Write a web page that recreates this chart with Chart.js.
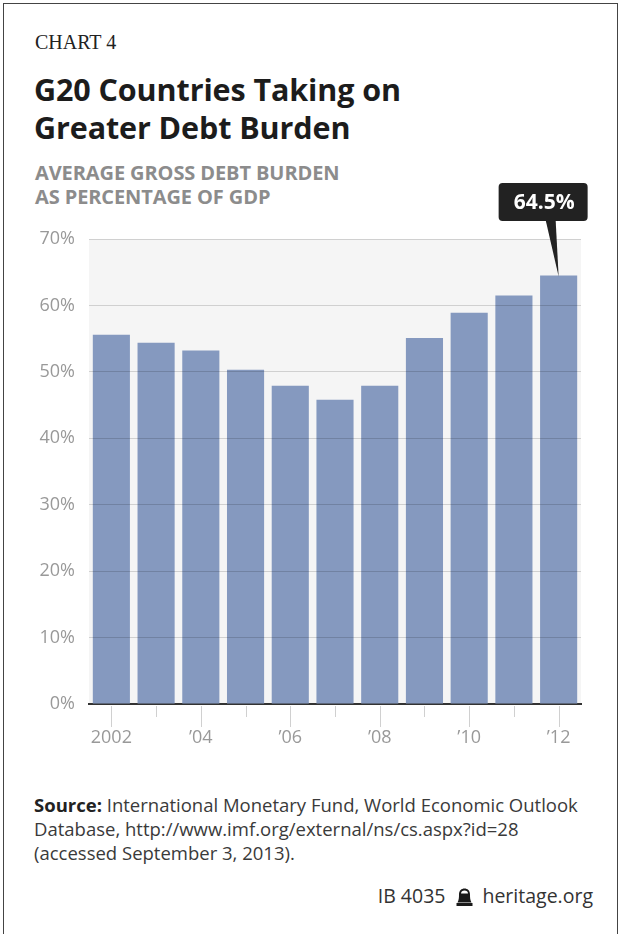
<!DOCTYPE html>
<html>
<head>
<meta charset="utf-8">
<script src="https://cdn.jsdelivr.net/npm/chart.js@4.4.1/dist/chart.umd.min.js"></script>
<style>
  html, body { margin: 0; padding: 0; background: #fff; }
  #page {
    position: relative; width: 623px; height: 934px; overflow: hidden;
    font-family: "Open Sans", Lato, sans-serif;
  }
  #frame {
    position: absolute; left: 3px; top: 3px; width: 615px; height: 940px;
    border: 1.5px solid #444; box-sizing: border-box;
  }
  .txt { position: absolute; white-space: nowrap; }
  #label { left: 35px; top: 31px; font-family: "Liberation Serif", serif; font-size: 20px; color: #222; }
  #title { left: 34px; top: 70px; font-size: 30.5px; font-weight: bold; line-height: 38px; color: #1c1c1c; letter-spacing: -0.1px; }
  #subtitle { left: 35px; top: 161px; font-size: 20px; font-weight: bold; line-height: 24px; color: #8c8c8c; letter-spacing: -0.1px; }
  #source { left: 34px; top: 793px; font-size: 18.5px; line-height: 24px; color: #3a3a3a; }
  #source b { color: #222; }
  #credit { right: 30px; top: 882px; font-size: 19.5px; color: #333; }
  #credit svg { vertical-align: -3px; margin: 0 9px 0 11px; }
  #wrap { position: absolute; left: 0; top: 170px; width: 623px; height: 590px; }
</style>
</head>
<body>
<div id="page">
  <div id="frame"></div>
  <div class="txt" id="label">CHART 4</div>
  <div class="txt" id="title">G20 Countries Taking on<br>Greater Debt Burden</div>
  <div class="txt" id="subtitle">AVERAGE GROSS DEBT BURDEN<br>AS PERCENTAGE OF GDP</div>
  <div id="wrap"><canvas id="debtChart" width="623" height="590"></canvas></div>
  <div class="txt" id="source"><b>Source:</b> International Monetary Fund, World Economic Outlook<br>Database, http://www.imf.org/external/ns/cs.aspx?id=28<br>(accessed September 3, 2013).</div>
  <div class="txt" id="credit">IB 4035<svg width="17" height="18" viewBox="0 0 17 18"><path d="M1.5 14.5 C3 12 3 9 3 6.5 C3 2.5 5.5 0.5 8.5 0.5 C11.5 0.5 14 2.5 14 6.5 C14 9 14 12 15.5 14.5 Z" fill="#1a1a1a"/><rect x="0.5" y="15" width="16" height="3" fill="#1a1a1a"/><path d="M5 5.5 C5 3.5 6.5 2.5 8.5 2.5 C10.5 2.5 12 3.5 12 5.5 Z" fill="#fff"/></svg>heritage.org</div>
</div>

<script>
// Average gross debt of G20 countries, % of GDP
const years = ["2002", "2003", "2004", "2005", "2006", "2007", "2008", "2009", "2010", "2011", "2012"];
const debtPct = [55.6, 54.4, 53.2, 50.3, 47.9, 45.8, 47.9, 55.1, 58.9, 61.5, 64.5];
const yearLabels = ["2002", "", "\u201904", "", "\u201906", "", "\u201908", "", "\u201910", "", "\u201912"];
const yTicks = [0, 10, 20, 30, 40, 50, 60, 70];

const barColor = "#8599bf";
const tickGrey = "#999";
const tickFont = { family: "'Open Sans'", size: 18 };

// grey panel behind the bars
const panelBackground = {
  id: "panelBackground",
  beforeDraw(chart) {
    const { ctx, chartArea } = chart;
    ctx.save();
    ctx.fillStyle = "#f5f5f5";
    ctx.fillRect(chartArea.left, chartArea.top, chartArea.right - chartArea.left, chartArea.bottom - chartArea.top);
    ctx.restore();
  },
};

// year tick marks under the axis: long on labelled years, short otherwise
const yearTicks = {
  id: "yearTicks",
  afterDraw(chart) {
    const { ctx, chartArea } = chart;
    const x = chart.scales.x;
    ctx.save();
    ctx.strokeStyle = "#d0d0d0";
    ctx.lineWidth = 1;
    years.forEach((y, i) => {
      const px = Math.round(x.getPixelForValue(i)) + 0.5;
      const len = yearLabels[i] ? 21 : 11;
      ctx.beginPath();
      ctx.moveTo(px, chartArea.bottom + 2);
      ctx.lineTo(px, chartArea.bottom + 2 + len);
      ctx.stroke();
    });
    ctx.restore();
  },
};

// dark callout with the latest value
const lastValueCallout = {
  id: "lastValueCallout",
  afterDraw(chart) {
    const { ctx } = chart;
    const meta = chart.getDatasetMeta(0);
    const i = debtPct.length - 1;
    const bar = meta.data[i];
    const tipX = bar.x, tipY = bar.y + 1;
    const boxL = tipX - 60, boxR = tipX + 29, boxT = 13, boxB = 51;
    ctx.save();
    ctx.fillStyle = "#222";
    ctx.beginPath();
    ctx.roundRect(boxL, boxT, boxR - boxL, boxB - boxT, 4);
    ctx.fill();
    ctx.beginPath();
    ctx.moveTo(tipX - 13, boxB - 1);
    ctx.lineTo(tipX - 3, boxB - 1);
    ctx.lineTo(tipX, tipY);
    ctx.closePath();
    ctx.fill();
    ctx.fillStyle = "#fff";
    ctx.font = "bold 21px 'Open Sans', sans-serif";
    ctx.textAlign = "center";
    ctx.textBaseline = "middle";
    ctx.fillText(debtPct[i] + "%", (boxL + boxR) / 2 + 1, (boxT + boxB) / 2 + 1);
    ctx.restore();
  },
};

new Chart(document.getElementById("debtChart"), {
  type: "bar",
  data: {
    labels: years,
    datasets: [
      {
        data: debtPct,
        backgroundColor: barColor,
        borderWidth: 0,
        barPercentage: 0.83,
        categoryPercentage: 1,
      },
    ],
  },
  options: {
    responsive: false,
    animation: false,
    layout: { padding: { top: 69, right: 42, left: 0, bottom: 0 } },
    plugins: { legend: { display: false }, tooltip: { enabled: false } },
    scales: {
      x: {
        grid: { display: false, drawTicks: false },
        border: { color: "#333", width: 2 },
        ticks: {
          color: tickGrey,
          font: tickFont,
          padding: 23,
          autoSkip: false,
          maxRotation: 0,
          callback: (v, i) => yearLabels[i],
        },
        afterFit(scale) { scale.height = 56; },
      },
      y: {
        min: 0,
        max: 70,
        afterBuildTicks(scale) { scale.ticks = yTicks.map((v) => ({ value: v })); },
        grid: {
          z: 1,
          drawTicks: false,
          color: (c) => (c.tick && c.tick.value === 0 ? "rgba(0,0,0,0)" : "rgba(0,0,0,0.15)"),
        },
        border: { display: false },
        ticks: {
          color: tickGrey,
          font: tickFont,
          padding: 14,
          callback: (v) => v + "%",
        },
        afterFit(scale) { scale.width = 89; },
      },
    },
  },
  plugins: [panelBackground, yearTicks, lastValueCallout],
});
</script>
</body>
</html>
